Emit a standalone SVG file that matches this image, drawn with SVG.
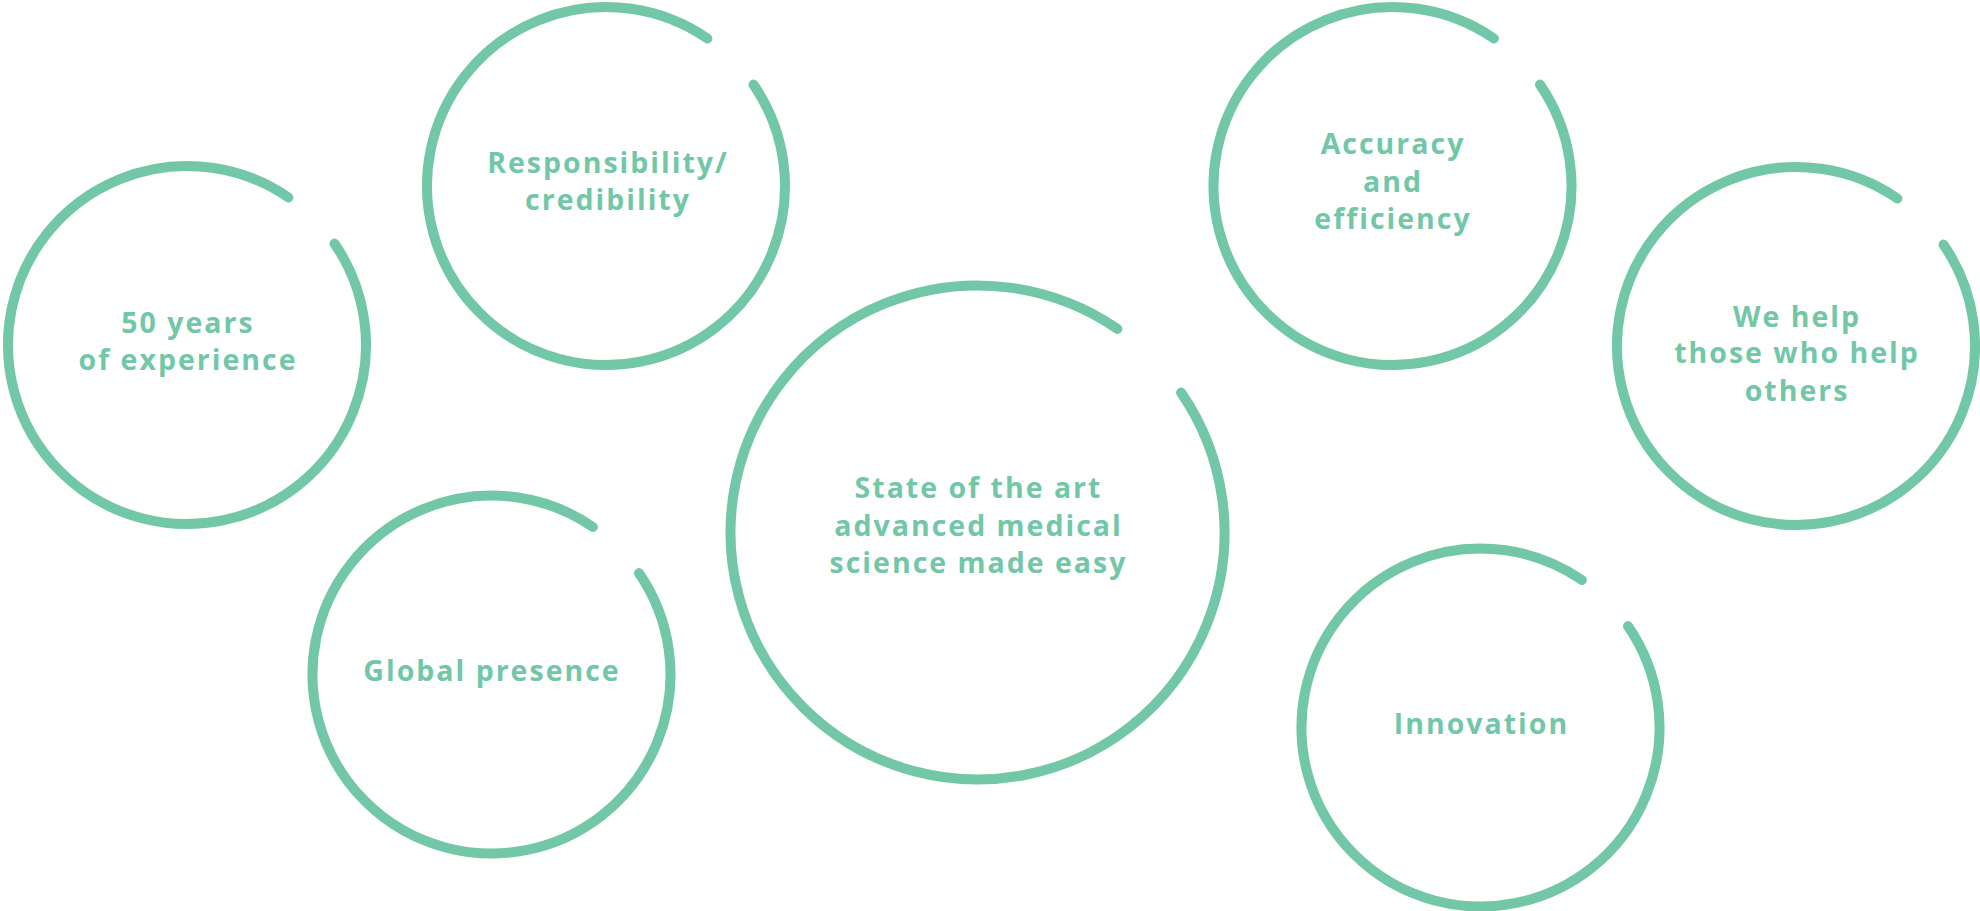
<svg xmlns="http://www.w3.org/2000/svg" width="1980" height="911" viewBox="0 0 1980 911">
  <style>
    .ring { fill: none; stroke: #72C7A7; stroke-width: 10; stroke-linecap: round; }
    .label { font-family: "Open Sans", "Noto Sans", sans-serif; font-weight: 700; font-size: 28.5px; letter-spacing: 2px; fill: #72C7A7; text-anchor: middle; }
  </style>
  <rect width="1980" height="911" fill="#ffffff"/>

  <!-- each ring is open between -55.5° and -34.5° -->
  <g id="node-experience">
    <path class="ring" d="M 334.5 243.6 A 179 179 0 1 1 288.4 197.5"/>
    <text class="label" x="188" y="333">50 years</text>
    <text class="label" x="188" y="370">of experience</text>
  </g>

  <g id="node-responsibility">
    <path class="ring" d="M 753.5 84.6 A 179 179 0 1 1 707.4 38.5"/>
    <text class="label" x="608" y="173">Responsibility/</text>
    <text class="label" x="608" y="210">credibility</text>
  </g>

  <g id="node-global">
    <path class="ring" d="M 639 573.1 A 179 179 0 1 1 592.9 527"/>
    <text class="label" x="492" y="681">Global presence</text>
  </g>

  <g id="node-state-of-art">
    <path class="ring" d="M 1181.1 392.6 A 247 247 0 1 1 1117.4 328.9"/>
    <text class="label" x="978.5" y="498">State of the art</text>
    <text class="label" x="978.5" y="536">advanced medical</text>
    <text class="label" x="978.5" y="573">science made easy</text>
  </g>

  <g id="node-accuracy">
    <path class="ring" d="M 1540 84.6 A 179 179 0 1 1 1493.9 38.5"/>
    <text class="label" x="1393" y="154">Accuracy</text>
    <text class="label" x="1393" y="192">and</text>
    <text class="label" x="1393" y="229">efficiency</text>
  </g>

  <g id="node-we-help">
    <path class="ring" d="M 1943.5 244.6 A 179 179 0 1 1 1897.4 198.5"/>
    <text class="label" x="1797" y="327">We help</text>
    <text class="label" x="1797" y="363">those who help</text>
    <text class="label" x="1797" y="401">others</text>
  </g>

  <g id="node-innovation">
    <path class="ring" d="M 1628 626.1 A 179 179 0 1 1 1581.9 580"/>
    <text class="label" x="1481.5" y="734">Innovation</text>
  </g>

  <g id="connectors"></g>
</svg>
